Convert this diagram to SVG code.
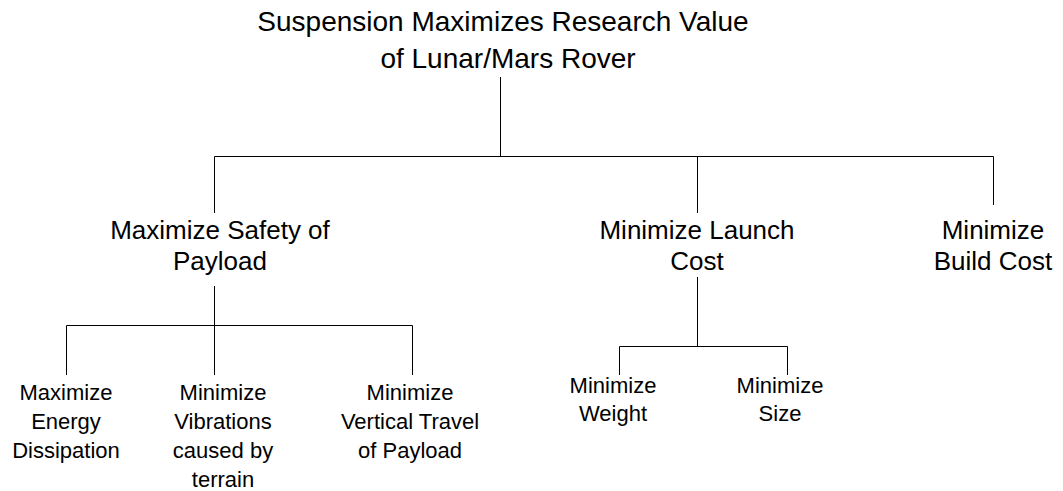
<svg xmlns="http://www.w3.org/2000/svg" width="1063" height="491" viewBox="0 0 1063 491">
<style>
text{font-family:"Liberation Sans",Arial,sans-serif;fill:#000;text-anchor:middle}
.t0{font-size:28px}
.t1{font-size:26px}
.t2{font-size:22px}
.c{fill:none;stroke:#000;stroke-width:1}
</style>
<rect width="1063" height="491" fill="#fff"/>
<g id="connectors">
<path class="c" d="M500.5 77V156.5M214.5 213V156.5H993.5V205M697.5 156.5V213"/>
<path class="c" d="M214.5 286V325.5M66.5 375V325.5H412.5V375M214.5 325.5V375"/>
<path class="c" d="M697.5 277V346.5M619.5 375V346.5H787.5V375"/>
</g>
<g id="root">
<text class="t0" x="503" y="31">Suspension Maximizes Research Value</text>
<text class="t0" x="508" y="68">of Lunar/Mars Rover</text>
</g>
<g id="safety">
<text class="t1" x="220" y="239">Maximize Safety of</text>
<text class="t1" x="220" y="270">Payload</text>
</g>
<g id="launch">
<text class="t1" x="697" y="239">Minimize Launch</text>
<text class="t1" x="697" y="270">Cost</text>
</g>
<g id="build">
<text class="t1" x="993" y="239">Minimize</text>
<text class="t1" x="993" y="270">Build Cost</text>
</g>
<g id="energy">
<text class="t2" x="66" y="400">Maximize</text>
<text class="t2" x="66" y="429">Energy</text>
<text class="t2" x="66" y="458">Dissipation</text>
</g>
<g id="vibrations">
<text class="t2" x="223" y="400">Minimize</text>
<text class="t2" x="223" y="429">Vibrations</text>
<text class="t2" x="223" y="458">caused by</text>
<text class="t2" x="223" y="487">terrain</text>
</g>
<g id="vertical">
<text class="t2" x="410" y="400">Minimize</text>
<text class="t2" x="410" y="429">Vertical Travel</text>
<text class="t2" x="410" y="458">of Payload</text>
</g>
<g id="weight">
<text class="t2" x="613" y="393">Minimize</text>
<text class="t2" x="613" y="421">Weight</text>
</g>
<g id="size">
<text class="t2" x="780" y="393">Minimize</text>
<text class="t2" x="780" y="421">Size</text>
</g>
</svg>
